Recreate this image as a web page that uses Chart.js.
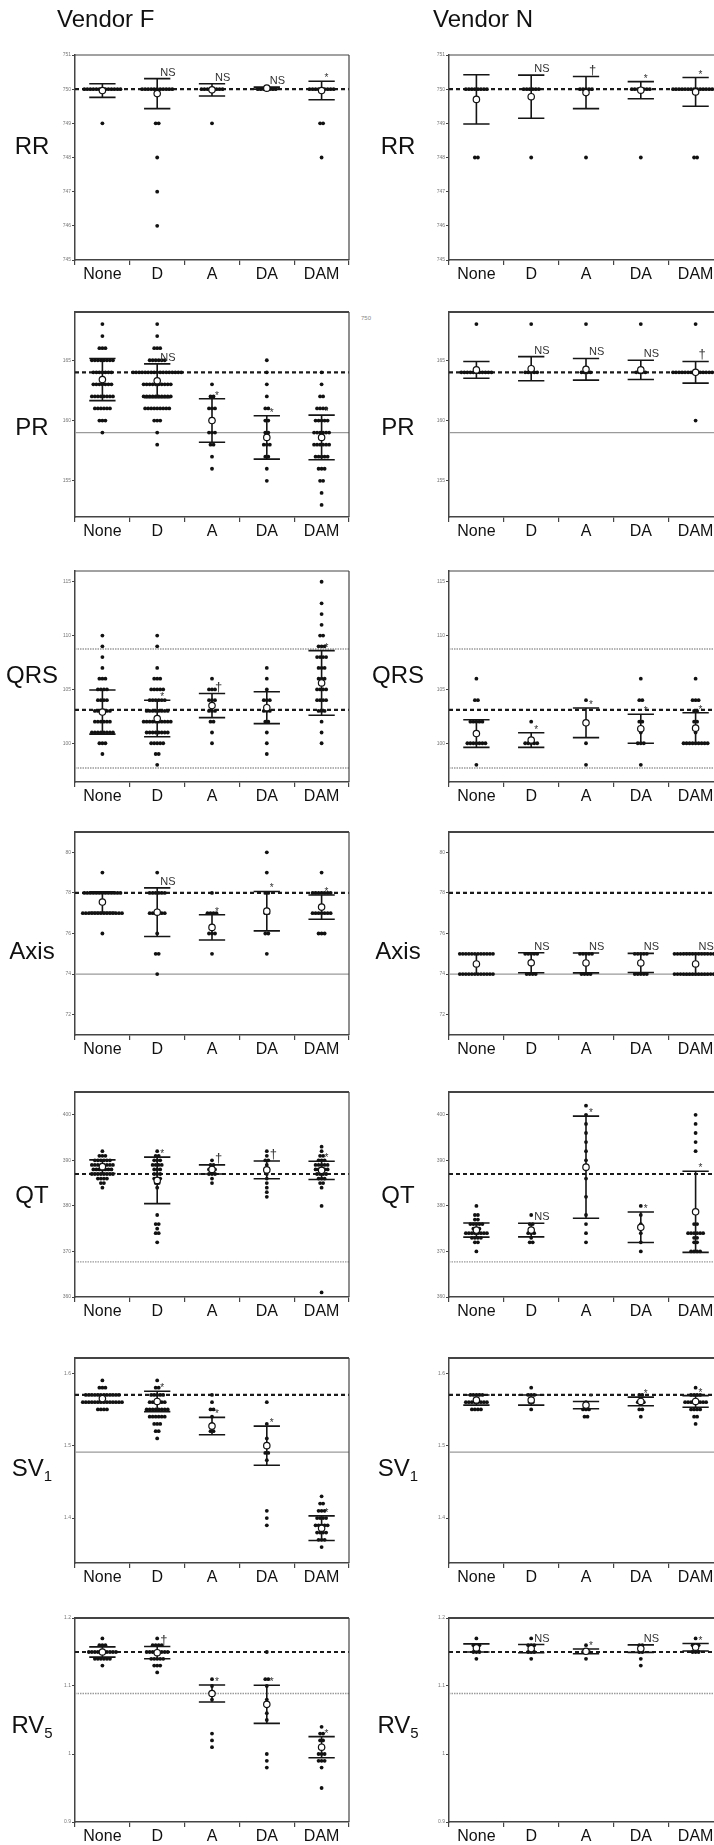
<!DOCTYPE html>
<html>
<head>
<meta charset="utf-8">
<script src="https://cdn.jsdelivr.net/npm/chart.js@4.4.1/dist/chart.umd.min.js"></script>
<style>
  html, body { margin:0; padding:0; background:#fff; }
  body { width:714px; height:1845px; overflow:hidden; position:relative; font-family:"Liberation Sans", Arial, sans-serif; color:#111; }
  .title { position:absolute; font-size:24px; line-height:24px; white-space:nowrap; will-change:transform; }
  .rowlab { position:absolute; font-size:24px; line-height:24px; transform:translate(-50%,-50%); white-space:nowrap; color:#111; will-change:transform; }
  .rowlab span { font-size:15px; vertical-align:-5px; color:#111; }
  .panel { position:absolute; }
  .stray { position:absolute; font-size:6px; color:#888; }
</style>
</head>
<body>
<div class="title" style="left:57px;top:7px">Vendor F</div>
<div class="title" style="left:433px;top:7px">Vendor N</div>
<div class="stray" style="left:361px;top:315px">750</div>
<script>
// ---------- categories ----------
const groups = ['None', 'D', 'A', 'DA', 'DAM'];

// ---------- RR ----------
const rrTicks = [745, 746, 747, 748, 749, 750, 751];
const rrDashed = 750;
const rrGrey = [];
const rrF_pts = [[[750,13],[749,1]], [[750,11],[749,2],[748,1],[747,1],[746,1]], [[750,8],[749,1]], [[750,7]], [[750,9],[749,2],[748,1]]];
const rrF_mean = [749.96, 749.87, 749.98, 750.03, 749.96];
const rrF_sd = [0.2, 0.44, 0.18, 0.03, 0.27];
const rrF_sig = ['', 'NS', 'NS', 'NS', '*'];
const rrN_pts = [[[750,8],[748,2]], [[750,6],[748,1]], [[750,5],[748,1]], [[750,7],[748,1]], [[750,16],[748,2]]];
const rrN_mean = [749.7, 749.78, 749.9, 749.97, 749.92];
const rrN_sd = [0.72, 0.63, 0.47, 0.25, 0.42];
const rrN_sig = ['', 'NS', '†', '*', '*'];

// ---------- PR ----------
const prTicks = [155, 160, 165];
const prDashed = 164;
const prGrey = [159];
const prF_pts = [
  [[168,1],[167,1],[166,3],[165,8],[164,7],[163,7],[162,8],[161,6],[160,3],[159,1]],
  [[168,1],[167,1],[166,3],[165,6],[164,17],[163,10],[162,10],[161,9],[160,3],[159,1],[158,1]],
  [[163,1],[162,2],[161,3],[160,2],[159,3],[158,2],[157,1],[156,1]],
  [[165,1],[164,1],[163,1],[162,1],[161,2],[160,2],[159,2],[158,3],[157,2],[156,1],[155,1]],
  [[164,1],[163,1],[162,2],[161,4],[160,5],[159,6],[158,6],[157,5],[156,3],[155,2],[154,1],[153,1]]
];
const prF_mean = [163.4, 163.3, 160.0, 158.6, 158.6];
const prF_sd = [1.75, 1.4, 1.8, 1.8, 1.85];
const prF_sig = ['', 'NS', '*', '*', '*'];
const prN_pts = [[[168,1],[164,11]], [[168,1],[164,5]], [[168,1],[164,4]], [[168,1],[164,4]], [[168,1],[164,16],[160,1]]];
const prN_mean = [164.2, 164.3, 164.25, 164.2, 164.0];
const prN_sd = [0.7, 1.0, 0.9, 0.8, 0.9];
const prN_sig = ['', 'NS', 'NS', 'NS', '†'];

// ---------- QRS ----------
const qrsTicks = [100, 105, 110, 115];
const qrsDashed = 103.1;
const qrsGrey = [108.75, 97.7];
const qrsF_pts = [
  [[110,1],[109,1],[108,1],[107,1],[106,3],[105,4],[104,4],[103,6],[102,6],[101,8],[100,3],[99,1]],
  [[110,1],[109,1],[107,1],[106,3],[105,5],[104,6],[103,8],[102,10],[101,8],[100,5],[99,2],[98,1]],
  [[106,1],[105,3],[104,3],[103,3],[102,2],[101,1],[100,1]],
  [[107,1],[106,1],[105,1],[104,3],[103,3],[102,2],[101,1],[100,1],[99,1]],
  [[115,1],[113,1],[112,1],[111,1],[110,2],[109,3],[108,4],[107,3],[106,3],[105,4],[104,4],[103,3],[102,1],[101,1],[100,1]]
];
const qrsF_mean = [102.9, 102.3, 103.5, 103.3, 105.6];
const qrsF_sd = [2.05, 1.7, 1.12, 1.48, 3.0];
const qrsF_sig = ['', '*', '†', '', '*'];
const qrsN_pts = [
  [[106,1],[104,2],[102,5],[100,7],[98,1]],
  [[102,1],[100,5]],
  [[104,1],[102,1],[100,1],[98,1]],
  [[106,1],[104,2],[102,2],[101,1],[100,3],[98,1]],
  [[106,1],[104,3],[103,2],[102,2],[101,1],[100,9]]
];
const qrsN_mean = [100.9, 100.3, 101.9, 101.35, 101.4];
const qrsN_sd = [1.28, 0.68, 1.38, 1.35, 1.43];
const qrsN_sig = ['', '*', '*', '*', '*'];

// ---------- Axis ----------
const axTicks = [72, 74, 76, 78, 80];
const axDashed = 78;
const axGrey = [74];
const axF_pts = [[[79,1],[78,13],[77,14],[76,1]], [[79,1],[78,6],[77,6],[76,1],[75,2],[74,1]], [[78,1],[77,4],[76,3],[75,1]], [[80,1],[79,1],[78,2],[77,2],[76,2],[75,1]], [[79,1],[78,7],[77,7],[76,3]]];
const axF_mean = [77.55, 77.05, 76.3, 77.1, 77.3];
const axF_sd = [0.5, 1.2, 0.62, 0.97, 0.6];
const axF_sig = ['', 'NS', '*', '*', '*'];
const axN_pts = [[[75,12],[74,12]], [[75,5],[74,4]], [[75,5],[74,4]], [[75,5],[74,5]], [[75,15],[74,15]]];
const axN_mean = [74.5, 74.56, 74.55, 74.55, 74.5];
const axN_sd = [0.5, 0.49, 0.49, 0.47, 0.53];
const axN_sig = ['', 'NS', 'NS', 'NS', 'NS'];

// ---------- QT ----------
const qtTicks = [360, 370, 380, 390, 400];
const qtDashed = 387;
const qtGrey = [367.7];
const qtF_pts = [
  [[392,1],[391,3],[390,6],[389,8],[388,7],[387,8],[386,4],[385,2],[384,1]],
  [[392,1],[391,2],[390,3],[389,4],[388,3],[387,3],[386,3],[385,2],[384,1],[378,1],[376,2],[375,1],[374,2],[372,1]],
  [[390,1],[389,2],[388,3],[387,3],[386,1],[385,1]],
  [[392,1],[391,1],[390,2],[389,1],[388,2],[387,1],[386,1],[385,1],[384,1],[383,1],[382,1]],
  [[393,1],[392,1],[391,2],[390,3],[389,5],[388,5],[387,4],[386,3],[385,2],[384,1],[380,1],[361,1]]
];
const qtF_mean = [388.6, 385.6, 388.0, 387.9, 387.8];
const qtF_sd = [1.5, 5.1, 1.0, 1.95, 2.0];
const qtF_sig = ['', '*', '†', '†', '*'];
const qtN_pts = [
  [[380,1],[378,2],[377,2],[376,5],[375,3],[374,8],[373,4],[372,2],[370,1]],
  [[378,1],[376,2],[375,1],[374,3],[373,1],[372,2]],
  [[402,1],[400,1],[398,1],[396,1],[394,1],[392,1],[390,1],[388,1],[386,1],[382,1],[378,1],[376,1],[374,1],[372,1]],
  [[380,1],[378,1],[376,1],[375,1],[374,1],[372,1],[370,1]],
  [[400,1],[398,1],[396,1],[394,1],[392,1],[376,2],[374,6],[373,2],[372,2],[370,4]]
];
const qtN_mean = [374.7, 374.7, 388.5, 375.3, 378.7];
const qtN_sd = [1.55, 1.5, 11.2, 3.35, 8.9];
const qtN_sig = ['', 'NS', '*', '*', '*'];

// ---------- SV1 ----------
const svTicks = [1.4, 1.5, 1.6];
const svDashed = 1.570;
const svGrey = [1.491];
const svF_pts = [
  [[1.59,1],[1.58,3],[1.57,12],[1.56,14],[1.55,4]],
  [[1.59,1],[1.58,2],[1.57,5],[1.56,6],[1.55,8],[1.54,6],[1.53,3],[1.52,2],[1.51,1]],
  [[1.57,1],[1.56,1],[1.55,2],[1.54,1],[1.53,1],[1.52,2]],
  [[1.56,1],[1.53,1],[1.51,1],[1.50,1],[1.49,2],[1.48,1],[1.41,1],[1.40,1],[1.39,1]],
  [[1.43,1],[1.42,2],[1.41,3],[1.40,4],[1.39,5],[1.38,4],[1.37,3],[1.36,1]]
];
const svF_mean = [1.565, 1.561, 1.527, 1.500, 1.386];
const svF_sd = [0.005, 0.014, 0.012, 0.027, 0.017];
const svF_sig = ['', '*', '*', '*', '*'];
const svN_pts = [
  [[1.57,5],[1.56,8],[1.55,4]],
  [[1.58,1],[1.57,3],[1.56,2],[1.55,1]],
  [[1.56,1],[1.55,3],[1.54,2]],
  [[1.57,2],[1.56,3],[1.55,2],[1.54,1]],
  [[1.58,1],[1.57,4],[1.56,8],[1.55,4],[1.54,2],[1.53,1]]
];
const svN_mean = [1.563, 1.563, 1.556, 1.561, 1.561];
const svN_sd = [0.007, 0.007, 0.005, 0.006, 0.008];
const svN_sig = ['', '', '*', '*', '*'];

// ---------- RV5 ----------
const rvTicks = [0.9, 1, 1.1, 1.2];
const rvDashed = 1.15;
const rvGrey = [1.089];
const rvF_pts = [
  [[1.17,1],[1.16,3],[1.15,10],[1.14,6],[1.13,1]],
  [[1.17,1],[1.16,4],[1.15,8],[1.14,5],[1.13,3],[1.12,1]],
  [[1.11,1],[1.10,1],[1.09,2],[1.08,1],[1.03,1],[1.02,1],[1.01,1]],
  [[1.15,1],[1.11,2],[1.10,1],[1.08,1],[1.07,1],[1.06,1],[1.05,1],[1.00,1],[0.99,1],[0.98,1]],
  [[1.04,1],[1.03,2],[1.02,2],[1.01,2],[1.00,3],[0.99,3],[0.98,1],[0.95,1]]
];
const rvF_mean = [1.150, 1.149, 1.089, 1.073, 1.010];
const rvF_sd = [0.0075, 0.009, 0.0125, 0.028, 0.0155];
const rvF_sig = ['', '†', '*', '*', '*'];
const rvN_pts = [
  [[1.17,1],[1.16,3],[1.15,3],[1.14,1]],
  [[1.17,1],[1.16,3],[1.15,3],[1.14,1]],
  [[1.16,1],[1.15,3],[1.14,1]],
  [[1.16,2],[1.15,2],[1.14,1],[1.13,1]],
  [[1.17,1],[1.16,3],[1.15,3]]
];
const rvN_mean = [1.156, 1.155, 1.151, 1.155, 1.157];
const rvN_sd = [0.006, 0.006, 0.0035, 0.0055, 0.0055];
const rvN_sig = ['', 'NS', '*', 'NS', '*'];

// ---------- layout (not data) ----------
const FRAME_W = 274, Y_W = 22, X_H = 26, PAD_T = 6, PAD_R = 6;
const GAP = 0.055;   // beeswarm spacing (x units)
const CAP = 0.24;    // error-bar cap half width (x units)

const ROWS = [
  { html:'RR', top:55, bottom:260, min:745, max:751, ticks:rrTicks, dashed:rrDashed, grey:rrGrey, greyDot:false, topW:1, labelY:146,
    F:{pts:rrF_pts, mean:rrF_mean, sd:rrF_sd, sig:rrF_sig}, N:{pts:rrN_pts, mean:rrN_mean, sd:rrN_sd, sig:rrN_sig} },
  { html:'PR', top:312, bottom:517, min:152, max:169, ticks:prTicks, dashed:prDashed, grey:prGrey, greyDot:false, topW:2, labelY:427,
    F:{pts:prF_pts, mean:prF_mean, sd:prF_sd, sig:prF_sig}, N:{pts:prN_pts, mean:prN_mean, sd:prN_sd, sig:prN_sig} },
  { html:'QRS', top:571, bottom:782, min:96.4, max:116, ticks:qrsTicks, dashed:qrsDashed, grey:qrsGrey, greyDot:true, topW:1, labelY:675,
    F:{pts:qrsF_pts, mean:qrsF_mean, sd:qrsF_sd, sig:qrsF_sig}, N:{pts:qrsN_pts, mean:qrsN_mean, sd:qrsN_sd, sig:qrsN_sig} },
  { html:'Axis', top:832, bottom:1035, min:71, max:81, ticks:axTicks, dashed:axDashed, grey:axGrey, greyDot:false, topW:2, labelY:951,
    F:{pts:axF_pts, mean:axF_mean, sd:axF_sd, sig:axF_sig}, N:{pts:axN_pts, mean:axN_mean, sd:axN_sd, sig:axN_sig} },
  { html:'QT', top:1092, bottom:1297, min:360, max:405, ticks:qtTicks, dashed:qtDashed, grey:qtGrey, greyDot:true, topW:2, labelY:1195,
    F:{pts:qtF_pts, mean:qtF_mean, sd:qtF_sd, sig:qtF_sig}, N:{pts:qtN_pts, mean:qtN_mean, sd:qtN_sd, sig:qtN_sig} },
  { html:'SV<span>1</span>', top:1358, bottom:1563, min:1.338, max:1.621, ticks:svTicks, dashed:svDashed, grey:svGrey, greyDot:false, topW:2, labelY:1472,
    F:{pts:svF_pts, mean:svF_mean, sd:svF_sd, sig:svF_sig}, N:{pts:svN_pts, mean:svN_mean, sd:svN_sd, sig:svN_sig} },
  { html:'RV<span>5</span>', top:1618, bottom:1822, min:0.9, max:1.2, ticks:rvTicks, dashed:rvDashed, grey:rvGrey, greyDot:true, topW:2, labelY:1729,
    F:{pts:rvF_pts, mean:rvF_mean, sd:rvF_sd, sig:rvF_sig}, N:{pts:rvN_pts, mean:rvN_mean, sd:rvN_sd, sig:rvN_sig} }
];
const COLS = [ { key:'F', left:75, labelX:32 }, { key:'N', left:449, labelX:398 } ];

function panelPlugin(d, row) {
  return {
    id: 'panelExtras',
    afterDatasetDraw(chart, args) {
      if (chart.data.datasets[args.index].label !== 'pts') return;
      const { ctx, scales: { x, y } } = chart;
      ctx.save();
      ctx.strokeStyle = '#151515';
      ctx.lineWidth = 1.6;
      d.mean.forEach((m, i) => {
        const s = d.sd[i];
        const px = x.getPixelForValue(i);
        const t = y.getPixelForValue(m + s), b = y.getPixelForValue(m - s);
        const l = x.getPixelForValue(i - CAP), r = x.getPixelForValue(i + CAP);
        ctx.beginPath();
        ctx.moveTo(px, t); ctx.lineTo(px, b);
        ctx.moveTo(l, t); ctx.lineTo(r, t);
        ctx.moveTo(l, b); ctx.lineTo(r, b);
        ctx.stroke();
      });
      ctx.restore();
    },
    afterDatasetsDraw(chart) {
      const { ctx, chartArea: a, scales: { x, y } } = chart;
      ctx.save();
      ctx.strokeStyle = '#444';
      ctx.lineWidth = row.topW;
      ctx.beginPath(); ctx.moveTo(a.left, a.top); ctx.lineTo(a.right, a.top); ctx.stroke();
      ctx.lineWidth = 1.2;
      ctx.beginPath(); ctx.moveTo(a.right, a.top); ctx.lineTo(a.right, a.bottom); ctx.stroke();
      ctx.fillStyle = '#333';
      ctx.textAlign = 'left';
      ctx.textBaseline = 'alphabetic';
      d.sig.forEach((t, i) => {
        if (!t) return;
        const fs = t === 'NS' ? 11 : (t === '†' ? 13 : 10);
        ctx.font = fs + 'px "Liberation Sans", Arial, sans-serif';
        const px = x.getPixelForValue(i) + 3;
        const py = y.getPixelForValue(d.mean[i] + d.sd[i]) - (t === '*' ? 0 : 3);
        ctx.fillText(t, px, Math.max(py, a.top + fs));
      });
      ctx.restore();
    }
  };
}

function makePanel(row, col) {
  const d = row[col.key];
  const frameH = row.bottom - row.top;
  const W = Y_W + FRAME_W + PAD_R, H = PAD_T + frameH + X_H;
  const div = document.createElement('div');
  div.className = 'panel';
  div.style.cssText = `left:${col.left - Y_W}px;top:${row.top - PAD_T}px;width:${W}px;height:${H}px`;
  const cv = document.createElement('canvas');
  cv.width = W; cv.height = H;
  cv.style.width = W + 'px'; cv.style.height = H + 'px';
  div.appendChild(cv);
  document.body.appendChild(div);

  const lab = document.createElement('div');
  lab.className = 'rowlab';
  lab.style.left = col.labelX + 'px';
  lab.style.top = row.labelY + 'px';
  lab.innerHTML = row.html;
  document.body.appendChild(lab);

  const pts = [];
  d.pts.forEach((grp, i) => grp.forEach(([v, n]) => {
    for (let k = 0; k < n; k++) pts.push({ x: i + (k - (n - 1) / 2) * GAP, y: v });
  }));
  const means = d.mean.map((m, i) => ({ x: i, y: m }));

  const datasets = [];
  row.grey.forEach(g => datasets.push({
    type: 'line', label: 'grey', data: [{ x: -0.5, y: g }, { x: 4.5, y: g }],
    borderColor: '#9a9a9a', borderWidth: 1.4, borderDash: row.greyDot ? [1.5, 1] : [],
    pointRadius: 0, showLine: true, order: 4
  }));
  datasets.push({
    type: 'line', label: 'dashed', data: [{ x: -0.5, y: row.dashed }, { x: 4.5, y: row.dashed }],
    borderColor: '#1a1a1a', borderWidth: 2.2, borderDash: [4, 3], pointRadius: 0, showLine: true, order: 3
  });
  datasets.push({ label: 'pts', data: pts, pointRadius: 1.9, pointBackgroundColor: '#111', pointBorderWidth: 0, order: 1 });
  datasets.push({ label: 'mean', data: means, pointRadius: 3.2, pointBackgroundColor: '#fff', pointBorderColor: '#111', pointBorderWidth: 1.2, order: 0 });

  new Chart(cv, {
    type: 'scatter',
    data: { datasets },
    options: {
      responsive: false, animation: false, events: [], devicePixelRatio: 1,
      layout: { padding: { top: PAD_T, right: PAD_R, left: 0, bottom: 0 } },
      plugins: { legend: { display: false }, tooltip: { enabled: false } },
      scales: {
        x: {
          type: 'linear', min: -0.5, max: 4.5,
          afterBuildTicks: s => { s.ticks = [-0.5, 0, 0.5, 1, 1.5, 2, 2.5, 3, 3.5, 4, 4.5].map(v => ({ value: v })); },
          afterFit: s => { s.height = X_H; },
          ticks: {
            autoSkip: false, maxRotation: 0, minRotation: 0, padding: 0, color: '#111',
            font: { family: '"Liberation Sans", Arial, sans-serif', size: 16 },
            callback: v => Number.isInteger(v) ? groups[v] : ''
          },
          grid: {
            drawOnChartArea: false, drawTicks: true, tickLength: 5, lineWidth: 1.2,
            color: c => (c.tick && Number.isInteger(c.tick.value)) ? 'rgba(0,0,0,0)' : '#444'
          },
          border: { display: true, color: '#444', width: 1.5 }
        },
        y: {
          type: 'linear', min: row.min, max: row.max,
          afterBuildTicks: s => { s.ticks = row.ticks.map(v => ({ value: v })); },
          afterFit: s => { s.width = Y_W; },
          ticks: { autoSkip: false, padding: 1, color: '#777', font: { family: '"Liberation Sans", Arial, sans-serif', size: 5 }, callback: v => String(v) },
          grid: { drawOnChartArea: false, drawTicks: true, tickLength: 3, color: '#444' },
          border: { display: true, color: '#444', width: 1.5 }
        }
      }
    },
    plugins: [panelPlugin(d, row)]
  });
}

ROWS.forEach(row => COLS.forEach(col => makePanel(row, col)));
</script>
</body>
</html>
